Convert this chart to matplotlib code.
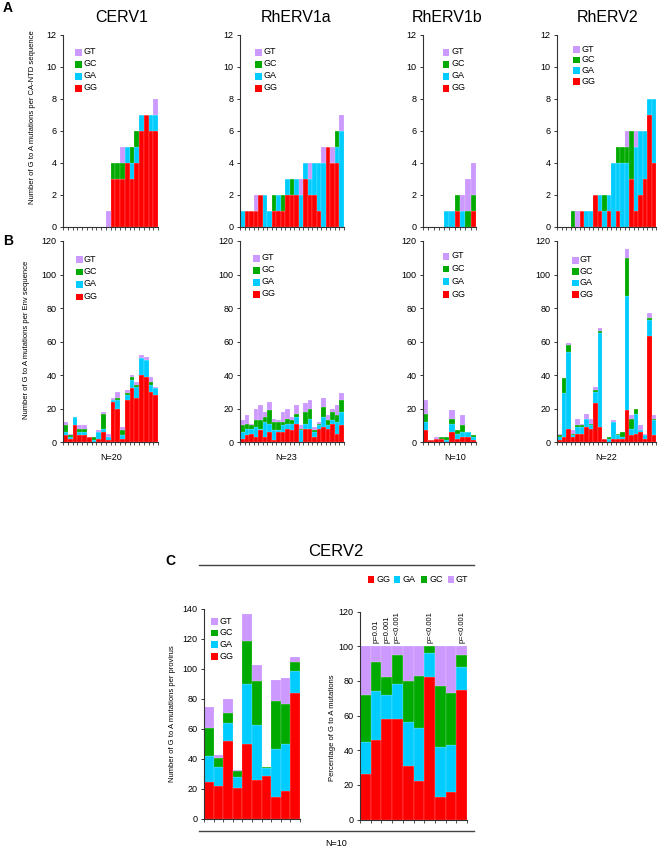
import matplotlib
matplotlib.use("Agg")
import matplotlib.pyplot as plt
from matplotlib.patches import Rectangle
from matplotlib.lines import Line2D

plt.rcParams['font.family'] = ['Liberation Sans', 'DejaVu Sans']

W, H = 662, 852
COLORS = {'GG': '#ff0000', 'GA': '#00ccff', 'GC': '#00aa00', 'GT': '#cc99ff'}

# ---- panel A: G to A mutations per CA-NTD sequence ----
A_CERV1_GG = [0, 0, 0, 0, 0, 0, 0, 0, 0, 0, 3, 3, 3, 4, 3, 4, 6, 7, 6, 6]
A_CERV1_GA = [0, 0, 0, 0, 0, 0, 0, 0, 0, 0, 0, 0, 0, 1, 1, 1, 1, 0, 1, 1]
A_CERV1_GC = [0, 0, 0, 0, 0, 0, 0, 0, 0, 0, 1, 1, 1, 0, 1, 1, 0, 0, 0, 0]
A_CERV1_GT = [0, 0, 0, 0, 0, 0, 0, 0, 0, 1, 0, 0, 1, 0, 0, 0, 0, 0, 0, 1]

A_RHERV1A_GG = [0, 1, 1, 1, 2, 0, 0, 1, 1, 1, 2, 2, 2, 0, 3, 2, 2, 1, 0, 5, 4, 4, 0]
A_RHERV1A_GA = [1, 0, 0, 0, 0, 2, 1, 0, 1, 0, 1, 0, 1, 2, 1, 1, 2, 3, 4, 0, 0, 1, 6]
A_RHERV1A_GC = [0, 0, 0, 0, 0, 0, 0, 1, 0, 1, 0, 1, 0, 0, 0, 0, 0, 0, 0, 0, 0, 1, 0]
A_RHERV1A_GT = [0, 0, 0, 1, 0, 0, 0, 0, 0, 0, 0, 0, 0, 1, 0, 1, 0, 0, 1, 0, 1, 0, 1]

A_RHERV1B_GG = [0, 0, 0, 0, 0, 0, 1, 0, 0, 1]
A_RHERV1B_GA = [0, 0, 0, 0, 1, 1, 0, 1, 0, 0]
A_RHERV1B_GC = [0, 0, 0, 0, 0, 0, 1, 0, 1, 1]
A_RHERV1B_GT = [0, 0, 0, 0, 0, 0, 0, 1, 2, 2]

A_RHERV2_GG = [0, 0, 0, 0, 0, 1, 0, 0, 2, 1, 0, 1, 0, 1, 0, 0, 3, 1, 2, 3, 7, 4]
A_RHERV2_GA = [0, 0, 0, 0, 0, 0, 1, 1, 0, 1, 1, 1, 4, 3, 4, 4, 0, 4, 4, 3, 1, 4]
A_RHERV2_GC = [0, 0, 0, 1, 0, 0, 0, 0, 0, 0, 1, 0, 0, 1, 1, 1, 3, 0, 0, 0, 0, 0]
A_RHERV2_GT = [0, 0, 0, 0, 1, 0, 0, 0, 0, 0, 0, 0, 0, 0, 0, 1, 0, 1, 0, 0, 0, 0]

# ---- panel B: G to A mutations per Env sequence ----
B_CERV1_GG = [4, 2, 10, 4, 4, 3, 0, 2, 6, 1, 24, 20, 2, 25, 32, 26, 40, 39, 30, 28]
B_CERV1_GA = [2, 1, 5, 2, 2, 0, 1, 4, 2, 2, 1, 5, 2, 3, 5, 7, 10, 10, 4, 4]
B_CERV1_GC = [4, 1, 0, 2, 2, 0, 2, 0, 9, 0, 0, 1, 3, 1, 2, 1, 0, 0, 2, 0]
B_CERV1_GT = [2, 1, 0, 2, 2, 0, 0, 1, 1, 2, 1, 4, 2, 2, 1, 2, 2, 2, 3, 1]

B_RHERV1A_GG = [2, 4, 5, 3, 7, 3, 6, 1, 6, 6, 8, 7, 11, 0, 8, 8, 3, 8, 9, 8, 11, 5, 10]
B_RHERV1A_GA = [4, 4, 3, 6, 1, 9, 5, 6, 1, 4, 3, 4, 4, 7, 3, 6, 3, 2, 6, 2, 2, 7, 8]
B_RHERV1A_GC = [4, 3, 2, 4, 5, 3, 8, 5, 5, 2, 3, 2, 2, 1, 7, 6, 1, 1, 6, 3, 5, 4, 7]
B_RHERV1A_GT = [3, 5, 1, 7, 9, 3, 5, 2, 1, 6, 6, 2, 5, 2, 5, 5, 2, 1, 5, 3, 2, 6, 4]

B_RHERV1B_GG = [7, 1, 2, 2, 0, 6, 2, 3, 3, 1]
B_RHERV1B_GA = [5, 0, 0, 0, 1, 5, 3, 3, 3, 2]
B_RHERV1B_GC = [5, 0, 0, 1, 2, 3, 2, 4, 0, 1]
B_RHERV1B_GT = [8, 0, 1, 0, 0, 5, 0, 6, 0, 0]

B_RHERV2_GG = [1, 3, 8, 3, 5, 5, 9, 8, 23, 9, 2, 0, 2, 2, 2, 19, 4, 5, 6, 2, 63, 4]
B_RHERV2_GA = [2, 26, 46, 1, 4, 4, 5, 2, 7, 56, 0, 2, 10, 2, 1, 68, 4, 12, 1, 2, 10, 9]
B_RHERV2_GC = [1, 9, 4, 1, 1, 1, 0, 1, 1, 1, 0, 1, 0, 1, 3, 23, 6, 3, 0, 0, 1, 1]
B_RHERV2_GT = [1, 0, 1, 2, 4, 1, 3, 3, 2, 2, 0, 0, 1, 0, 0, 5, 2, 0, 3, 1, 3, 2]

# ---- panel C: CERV2 per provirus ----
C_COUNT_GG = [25, 22, 52, 21, 50, 26, 29, 15, 19, 84]
C_COUNT_GA = [17, 13, 12, 7, 40, 37, 5, 32, 31, 15]
C_COUNT_GC = [19, 6, 7, 4, 29, 29, 1, 32, 27, 6]
C_COUNT_GT = [14, 2, 9, 1, 18, 11, 0, 14, 17, 3]

C_PCT_GG = [26, 46, 58, 58, 31, 22, 82, 13, 16, 75]
C_PCT_GA = [19, 28, 14, 20, 25, 31, 14, 29, 27, 13]
C_PCT_GC = [27, 17, 10, 17, 24, 30, 4, 35, 30, 7]
C_PCT_GT = [28, 9, 18, 5, 20, 17, 0, 23, 27, 5]

P_BARS = [1, 2, 3, 6, 9]
P_LABELS = ['p=0.01', 'p=0.001', 'p=<0.001', 'p=<0.001', 'p=<0.001']

TITLES = ['CERV1', 'RhERV1a', 'RhERV1b', 'RhERV2']
N_LABELS = ['N=20', 'N=23', 'N=10', 'N=22']


def px_axes(fig, x0, y0, x1, y1):
    return fig.add_axes([x0 / W, 1 - y1 / H, (x1 - x0) / W, (y1 - y0) / H])


def stacked(ax, gg, ga, gc, gt, ymax, step):
    n = len(gg)
    xs = list(range(n))
    bottom = [0] * n
    for key, vals in (('GG', gg), ('GA', ga), ('GC', gc), ('GT', gt)):
        # thin light separators between neighbouring bars, like the original
        ax.bar(xs, vals, width=1.0, bottom=bottom, color=COLORS[key],
               edgecolor=(1, 1, 1, 0.35), linewidth=0.35)
        bottom = [b + v for b, v in zip(bottom, vals)]
    ax.set_xlim(-0.5, n - 0.5)
    ax.set_ylim(0, ymax)
    ax.set_yticks(range(0, ymax + 1, step))
    ax.set_xticks([i - 0.5 for i in range(n + 1)])
    ax.set_xticklabels([])
    for s in ('top', 'right'):
        ax.spines[s].set_visible(False)
    for s in ('left', 'bottom'):
        ax.spines[s].set_linewidth(0.8)
        ax.spines[s].set_color('#333333')
        ax.spines[s].set_zorder(5)
    ax.tick_params(axis='y', labelsize=6.5, length=2.5, width=0.7, pad=2, colors='#333333', labelcolor='black')
    ax.tick_params(axis='x', length=2, width=0.6, colors='#333333')


def draw_key(fig, x, y, dy, labels=('GT', 'GC', 'GA', 'GG')):
    for i, lab in enumerate(labels):
        yc = y + i * dy
        fig.add_artist(Rectangle((x / W, 1 - (yc + 3.5) / H), 6.5 / W, 6.5 / H,
                                 transform=fig.transFigure, color=COLORS[lab], lw=0))
        fig.text((x + 8) / W, 1 - yc / H, lab, fontsize=6.5, va='center', ha='left')


fig = plt.figure(figsize=(W / 100, H / 100), dpi=100)

a_data = [
    (A_CERV1_GG, A_CERV1_GA, A_CERV1_GC, A_CERV1_GT),
    (A_RHERV1A_GG, A_RHERV1A_GA, A_RHERV1A_GC, A_RHERV1A_GT),
    (A_RHERV1B_GG, A_RHERV1B_GA, A_RHERV1B_GC, A_RHERV1B_GT),
    (A_RHERV2_GG, A_RHERV2_GA, A_RHERV2_GC, A_RHERV2_GT),
]
b_data = [
    (B_CERV1_GG, B_CERV1_GA, B_CERV1_GC, B_CERV1_GT),
    (B_RHERV1A_GG, B_RHERV1A_GA, B_RHERV1A_GC, B_RHERV1A_GT),
    (B_RHERV1B_GG, B_RHERV1B_GA, B_RHERV1B_GC, B_RHERV1B_GT),
    (B_RHERV2_GG, B_RHERV2_GA, B_RHERV2_GC, B_RHERV2_GT),
]
x_spans = [(63, 158), (240, 344), (423, 476), (557, 656)]
title_x = [122, 296, 447, 608]
n_x = [111, 286, 455, 606]
a_keys = [(75, 52, 12), (255, 52, 12), (443, 52, 12), (573, 49, 10.7)]
b_keys = [(76, 259, 12.5), (253, 258, 12), (443, 256, 12.7), (572, 260, 11.4)]

for i in range(4):
    x0, x1 = x_spans[i]
    ax = px_axes(fig, x0, 35, x1, 227)
    stacked(ax, *a_data[i], ymax=12, step=2)
    fig.text(title_x[i] / W, 1 - 17 / H, TITLES[i], fontsize=11.5, ha='center', va='center')
    draw_key(fig, *a_keys[i])

    ax = px_axes(fig, x0, 241, x1, 442)
    stacked(ax, *b_data[i], ymax=120, step=20)
    fig.text(n_x[i] / W, 1 - 457 / H, N_LABELS[i], fontsize=6.5, ha='center', va='center')
    draw_key(fig, *b_keys[i])

fig.text(3 / W, 1 - 8 / H, 'A', fontsize=10, fontweight='bold', ha='left', va='center')
fig.text(3 / W, 1 - 241 / H, 'B', fontsize=10, fontweight='bold', ha='left', va='center')
fig.text(33 / W, 1 - 117 / H, 'Number of G to A mutations per CA-NTD sequence',
         rotation=90, fontsize=5.5, ha='center', va='center')
fig.text(27 / W, 1 - 340 / H, 'Number of G to A mutations per Env sequence',
         rotation=90, fontsize=5.5, ha='center', va='center')

# panel C
fig.text(165 / W, 1 - 561 / H, 'C', fontsize=10, fontweight='bold', ha='left', va='center')
fig.text(336 / W, 1 - 551 / H, 'CERV2', fontsize=12, ha='center', va='center')
fig.add_artist(Line2D([199 / W, 474 / W], [1 - 565 / H] * 2, color='#444444', lw=1,
                      transform=fig.transFigure))
fig.add_artist(Line2D([199 / W, 474 / W], [1 - 831 / H] * 2, color='#444444', lw=1,
                      transform=fig.transFigure))
fig.text(336 / W, 1 - 843 / H, 'N=10', fontsize=6.5, ha='center', va='center')

ax = px_axes(fig, 204, 609, 300, 819)
stacked(ax, C_COUNT_GG, C_COUNT_GA, C_COUNT_GC, C_COUNT_GT, ymax=140, step=20)
draw_key(fig, 211, 621, 11.7)
fig.text(172 / W, 1 - 714 / H, 'Number of G to A mutations per provirus',
         rotation=90, fontsize=5.5, ha='center', va='center')

ax = px_axes(fig, 360, 611.5, 467, 819.5)
stacked(ax, C_PCT_GG, C_PCT_GA, C_PCT_GC, C_PCT_GT, ymax=120, step=20)
for b, lab in zip(P_BARS, P_LABELS):
    ax.text(b, 102, lab, rotation=90, fontsize=5.5, ha='center', va='bottom')
fig.text(333 / W, 1 - 728 / H, 'Percentage of G to A mutations',
         rotation=90, fontsize=5.5, ha='center', va='center')
for lab, x in zip(['GG', 'GA', 'GC', 'GT'], [368, 394, 421, 448]):
    fig.add_artist(Rectangle((x / W, 1 - 582.5 / H), 6.5 / W, 6.5 / H,
                             transform=fig.transFigure, color=COLORS[lab], lw=0))
    fig.text((x + 8) / W, 1 - 579 / H, lab, fontsize=6.5, va='center', ha='left')

fig.savefig('out.png', dpi=100)
